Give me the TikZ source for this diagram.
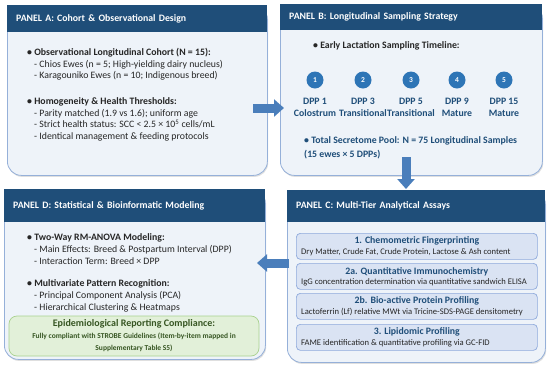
\documentclass[tikz,border=0pt]{standalone}
\usepackage{fontspec}
\setmainfont{Carlito}
\usetikzlibrary{positioning,calc,arrows.meta,shadows}
\definecolor{PNavy}{HTML}{1F4E79}
\definecolor{PFill}{HTML}{EEF3F9}
\definecolor{PEdge}{HTML}{95B0D9}
\definecolor{PDot}{HTML}{2E75B6}
\definecolor{PBlueText}{HTML}{1F4E79}
\definecolor{PInk}{HTML}{262626}
\definecolor{PArrow}{HTML}{4A7EBB}
\definecolor{PBoxFill}{HTML}{DAE3F3}
\definecolor{PBoxEdge}{HTML}{8FAADC}
\definecolor{PGreenFill}{HTML}{E2F0D9}
\definecolor{PGreenEdge}{HTML}{A9D18E}
\definecolor{PGreen}{HTML}{375623}

\tikzset{
  panelbody/.style={draw=PEdge, fill=PFill, line width=0.8pt, rounded corners=14pt,
    anchor=north west, inner sep=0pt,
    drop shadow={shadow xshift=0.8pt, shadow yshift=-1.5pt, opacity=0.25}},
  panelhead/.style={fill=PNavy, text=white, anchor=north west, inner xsep=9pt,
    inner ysep=0pt, align=left, font=\fontsize{9.8}{12}\selectfont\bfseries},
  listtext/.style={anchor=north west, inner sep=0pt, align=left, text=PInk,
    font=\fontsize{9.8}{11.7}\selectfont},
  bulletbold/.style={inner sep=0pt, text=PInk, font=\fontsize{9.8}{12}\selectfont\bfseries},
  dppdot/.style={circle, fill=PDot, text=white, minimum size=17pt, inner sep=0pt,
    font=\fontsize{7.5}{8}\selectfont\bfseries},
  dpplabel/.style={align=center, inner sep=0pt, text=PBlueText,
    font=\fontsize{9.8}{12}\selectfont\bfseries},
  assaybox/.style={draw=PBoxEdge, fill=PBoxFill, rounded corners=4pt, line width=0.7pt,
    anchor=north west, minimum width=241pt, minimum height=26pt, inner sep=0pt},
  assaytitle/.style={inner sep=0pt, text=PBlueText, font=\fontsize{9.8}{12}\selectfont\bfseries},
  assaytext/.style={inner sep=0pt, text=PInk, font=\fontsize{8.6}{10}\selectfont},
  greenbox/.style={draw=PGreenEdge, fill=PGreenFill, rounded corners=8pt, line width=0.7pt,
    minimum width=250pt, minimum height=40pt, inner sep=0pt, align=center, text=PGreen,
    font=\fontsize{10}{12}\selectfont\bfseries},
  flowarrow/.style={draw=PArrow, line width=9pt, -{Triangle[length=10pt, width=17pt]}}
}

\begin{document}
\begin{tikzpicture}[x=1pt, y=-1pt]
\useasboundingbox[fill=white] (0,0) rectangle (550,365);
% panels
\foreach \p/\x/\y/\w/\h/\hh/\title in {%
  A/7/5/260/170/27/{Cohort \& Observational Design},
  B/280/4/262/171/26/{Longitudinal Sampling Strategy},
  C/287/190/258/172/32/{Multi-Tier Analytical Assays},
  D/4/189/261/170/33/{Statistical \& Bioinformatic Modeling}}{
  \pgfmathsetmacro{\tw}{\w-18}
  \node[panelbody, minimum width=\w pt, minimum height=\h pt] (panel\p) at (\x,\y) {};
  \node[panelhead, minimum width=\w pt, minimum height=\hh pt, text width=\tw pt]
       (head\p) at (\x,\y) {PANEL \p: \title};
}
% panel A
\node[listtext] (listA) at (27,48) {%
  \textbf{• Observational Longitudinal Cohort (N = 15):}\\
  \hspace*{7pt}- Chios Ewes (n = 5; High-yielding dairy nucleus)\\
  \hspace*{7pt}- Karagouniko Ewes (n = 10; Indigenous breed)\\[14pt]
  \textbf{• Homogeneity \& Health Thresholds:}\\
  \hspace*{7pt}- Parity matched (1.9 vs 1.6); uniform age\\
  \hspace*{7pt}- Strict health status: SCC < 2.5 × 10\textsuperscript{5} cells/mL\\
  \hspace*{7pt}- Identical management \& feeding protocols};
% panel B
\node[bulletbold, anchor=west] (timeline) at (313,46) {• Early Lactation Sampling Timeline:};
\foreach \i/\x/\d/\stage in {1/315/1/Colostrum, 2/363/3/Transitional,
  3/411/5/Transitional, 4/457/9/Mature, 5/504/15/Mature}{
  \node[dppdot] (dot\i) at (\x,80) {\i};
  \node[dpplabel, below=9pt of dot\i] (dpp\i) {DPP \d\\\stage};
}
\node[listtext, text=PBlueText, font=\fontsize{9.8}{14}\selectfont\bfseries]
     (pool) at (304,136) {• Total Secretome Pool: N = 75 Longitudinal Samples\\(15 ewes × 5 DPPs)};
% panel C
\foreach \i/\y/\title/\detail in {%
  1/233/{1. Chemometric Fingerprinting}/{Dry Matter, Crude Fat, Crude Protein, Lactose \& Ash content},
  2/263/{2a. Quantitative Immunochemistry}/{IgG concentration determination via quantitative sandwich ELISA},
  3/293/{2b. Bio-active Protein Profiling}/{Lactoferrin (Lf) relative MWt via Tricine-SDS-PAGE densitometry},
  4/324/{3. Lipidomic Profiling}/{FAME identification \& quantitative profiling via GC-FID}}{
  \node[assaybox] (assay\i) at (296,\y) {};
  \node[assaytitle] (assaytitle\i) at ($(assay\i.center)+(0,-5)$) {\title};
  \node[assaytext, anchor=west] (assaytext\i) at ($(assay\i.west)+(5,5.5)$) {\detail};
}
% panel D
\node[listtext, font=\fontsize{9.8}{12}\selectfont] (listD) at (27,233) {%
  \textbf{• Two-Way RM-ANOVA Modeling:}\\
  \hspace*{7pt}- Main Effects: Breed \& Postpartum Interval (DPP)\\
  \hspace*{7pt}- Interaction Term: Breed × DPP\\[10pt]
  \textbf{• Multivariate Pattern Recognition:}\\
  \hspace*{7pt}- Principal Component Analysis (PCA)\\
  \hspace*{7pt}- Hierarchical Clustering \& Heatmaps};
\node[greenbox] (strobe) at (134,336) {Epidemiological Reporting Compliance:\\
  \fontsize{7.5}{8}\selectfont Fully compliant with STROBE Guidelines (Item-by-item mapped in\\
  \fontsize{7.5}{8}\selectfont Supplementary Table S5)};
% arrows between panels
\coordinate (ab1) at (253,108);
\coordinate (ab2) at (284,108);
\coordinate (bc1) at (406,157);
\coordinate (bc2) at (406,189);
\coordinate (cd1) at (289,263);
\coordinate (cd2) at (257,263);
\draw[flowarrow] (ab1) -- (ab2);
\draw[flowarrow] (bc1) -- (bc2);
\draw[flowarrow] (cd1) -- (cd2);
\end{tikzpicture}
\end{document}
